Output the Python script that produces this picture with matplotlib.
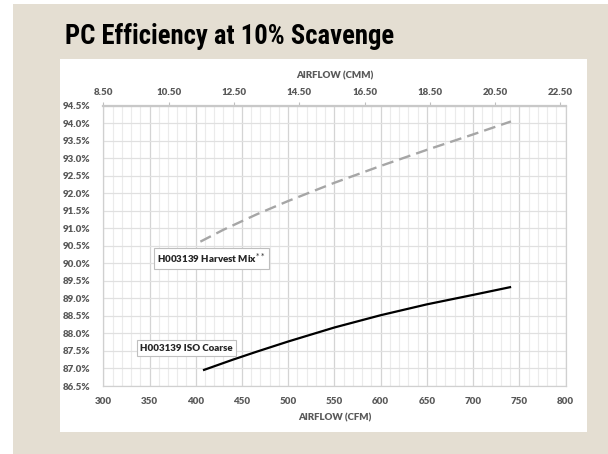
import matplotlib
matplotlib.use("Agg")
import matplotlib.pyplot as plt
from matplotlib.patches import Rectangle
from matplotlib.ticker import MultipleLocator, FuncFormatter

# ---- data ----
harvest_cfm = [405, 430, 466, 500, 550, 600, 650, 700, 741]
harvest_eff = [90.62, 90.96, 91.40, 91.78, 92.30, 92.78, 93.24, 93.68, 94.05]
iso_cfm = [409, 440, 466, 500, 550, 600, 650, 700, 740]
iso_eff = [86.96, 87.25, 87.48, 87.77, 88.17, 88.52, 88.83, 89.10, 89.32]
cmm_ticks = [8.50, 10.50, 12.50, 14.50, 16.50, 18.50, 20.50, 22.50]
title = "PC Efficiency at 10% Scavenge"
CFM_TO_CMM = 0.0283168

W, H = 608, 454
fig = plt.figure(figsize=(W / 100, H / 100), dpi=100)
fig.patch.set_facecolor("white")

def fx(px):
    return px / W

def fy(py):
    return 1 - py / H

# beige background and white panel
fig.patches.append(Rectangle((fx(13), 0), fx(608) - fx(13), fy(4), transform=fig.transFigure,
                             facecolor="#e4ded2", edgecolor="none", zorder=0))
fig.patches.append(Rectangle((fx(60), fy(431.7)), fx(586.5) - fx(60), fy(59.3) - fy(431.7),
                             transform=fig.transFigure, facecolor="white", edgecolor="none", zorder=1))

fig.text(fx(65), fy(44.5), title, fontsize=19.2, fontweight="bold", fontstretch="condensed",
         family=["Roboto Condensed", "DejaVu Sans"], color="black",
         ha="left", va="baseline")

ax = fig.add_axes([fx(103.3), fy(386), fx(565.5) - fx(103.3), fy(105.7) - fy(386)])
ax.set_facecolor("white")
ax.set_zorder(3)

tick_font = dict(family=["Lato", "DejaVu Sans"], fontweight="heavy", fontsize=7, color="#595959")

ax.set_xlim(300, 800)
ax.set_ylim(86.5, 94.5)
ax.xaxis.set_major_locator(MultipleLocator(50))
ax.xaxis.set_minor_locator(MultipleLocator(10))
ax.yaxis.set_major_locator(MultipleLocator(0.5))
ax.grid(which="minor", axis="x", color="#ebebeb", linewidth=0.8)
ax.grid(which="major", axis="x", color="#d4d4d4", linewidth=0.9)
ax.grid(which="major", axis="y", color="#e0e0e0", linewidth=0.9)
ax.set_axisbelow(True)
ax.tick_params(which="both", length=0)
ax.tick_params(axis="x", pad=8)
ax.tick_params(axis="y", pad=9)
ax.yaxis.set_major_formatter(FuncFormatter(lambda v, p: f"{v:.1f}%"))
for lab in ax.get_xticklabels() + ax.get_yticklabels():
    lab.set(**tick_font)
for side in ["left", "bottom", "right"]:
    ax.spines[side].set_color("#d0d0d0")
    ax.spines[side].set_linewidth(0.9)
ax.spines["top"].set_color("#c8c8c8")
ax.spines["top"].set_linewidth(1.6)

ax.plot(harvest_cfm, harvest_eff, color="#a6a6a6", linewidth=1.7, linestyle=(0, (5, 2.6)),
        dash_capstyle="butt")
ax.plot(iso_cfm, iso_eff, color="black", linewidth=1.6)

ax.set_xlabel("AIRFLOW (CFM)", labelpad=5, **tick_font)

# secondary top axis in CMM
sec = ax.secondary_xaxis("top", functions=(lambda x: x * CFM_TO_CMM, lambda x: x / CFM_TO_CMM))
sec.set_xticks(cmm_ticks)
sec.xaxis.set_major_formatter(FuncFormatter(lambda v, p: f"{v:.2f}"))
sec.tick_params(length=3, width=0.8, color="#bfbfbf", pad=3)
sec.spines["top"].set_visible(False)
for lab in sec.get_xticklabels():
    lab.set(**tick_font)
sec.set_xlabel("AIRFLOW (CMM)", labelpad=7, **tick_font)

# series labels
box = dict(boxstyle="square,pad=0.35", facecolor="white", edgecolor="#bfbfbf", linewidth=0.8)
lab_font = dict(family=["Lato", "DejaVu Sans"], fontweight="heavy", fontsize=7, color="#262626")
ax.text(0.117, 0.455, "H003139 Harvest Mix$^{**}$", transform=ax.transAxes, ha="left", va="center",
        bbox=box, **lab_font)
ax.text(0.08, 0.135, "H003139 ISO Coarse", transform=ax.transAxes, ha="left", va="center",
        bbox=box, **lab_font)

fig.savefig("out.png", dpi=100, facecolor=fig.get_facecolor())
